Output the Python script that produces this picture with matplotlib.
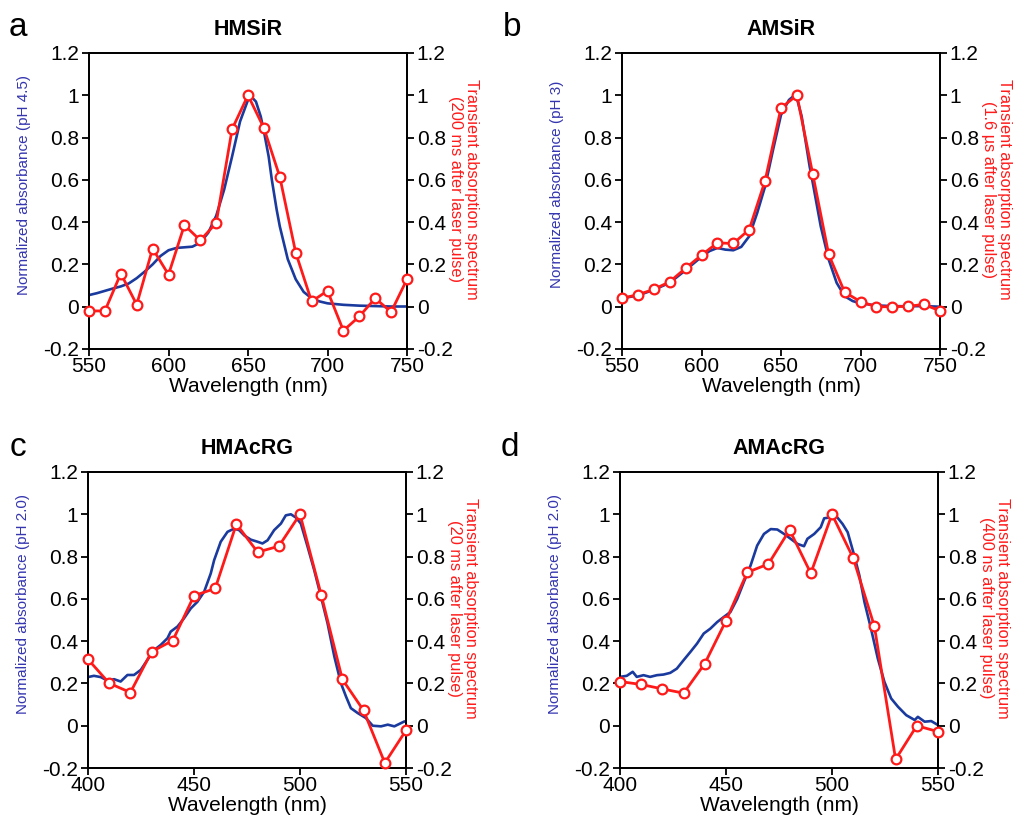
import matplotlib
matplotlib.use("Agg")
import matplotlib.pyplot as plt
from matplotlib.ticker import FuncFormatter, MultipleLocator

plt.rcParams['font.family'] = ['Liberation Sans', 'DejaVu Sans']

# ---------------- data ----------------
# Panel a: HMSiR
a_abs_x = [550, 555, 560, 565, 570, 575, 580, 585, 590, 595, 600, 605, 610, 615, 620, 625, 630,
           635, 640, 645, 650, 652, 655, 658, 660, 663, 665, 668, 670, 673, 675, 680, 685, 690,
           695, 700, 710, 720, 730, 740, 750]
a_abs_y = [0.055, 0.064, 0.075, 0.086, 0.096, 0.11, 0.135, 0.166, 0.20, 0.24, 0.267, 0.278, 0.281,
           0.284, 0.303, 0.35, 0.43, 0.554, 0.711, 0.876, 0.978, 0.994, 0.97, 0.90, 0.83, 0.71,
           0.60, 0.46, 0.38, 0.287, 0.225, 0.13, 0.07, 0.04, 0.025, 0.016, 0.009, 0.005, 0.003,
           0.001, 0.001]
a_ta_x = [550, 560, 570, 580, 590, 600, 610, 620, 630, 640, 650, 660, 670, 680, 690, 700, 710,
          720, 730, 740, 750]
a_ta_y = [-0.02, -0.02, 0.157, 0.01, 0.275, 0.152, 0.386, 0.314, 0.396, 0.84, 1.0, 0.845, 0.614,
          0.256, 0.025, 0.075, -0.113, -0.046, 0.04, -0.025, 0.13]

# Panel b: AMSiR
b_abs_x = [550, 560, 570, 580, 590, 600, 605, 610, 615, 620, 625, 630, 635, 640, 645, 650, 655,
           658, 660, 663, 665, 668, 670, 675, 680, 685, 690, 695, 700, 710, 720, 730, 740, 750]
b_abs_y = [0.04, 0.053, 0.08, 0.113, 0.173, 0.236, 0.263, 0.278, 0.27, 0.267, 0.283, 0.333, 0.443,
           0.569, 0.742, 0.907, 0.978, 0.997, 0.986, 0.90, 0.805, 0.664, 0.585, 0.38, 0.223,
           0.113, 0.05, 0.027, 0.016, 0.006, 0.003, 0.002, 0.003, 0.0]
b_ta_x = [550, 560, 570, 580, 590, 600, 610, 620, 630, 640, 650, 660, 670, 680, 690, 700, 710,
          720, 730, 740, 750]
b_ta_y = [0.04, 0.057, 0.082, 0.118, 0.182, 0.244, 0.302, 0.299, 0.365, 0.596, 0.94, 1.0, 0.626,
          0.247, 0.069, 0.024, 0.0, 0.0, 0.002, 0.011, -0.02]

# Panel c: HMAcRG
c_abs_x = [400, 402.8, 406, 409.1, 412.3, 415.4, 418.6, 421.7, 424.9, 428, 431.2, 434.3, 437.5,
           439, 442.2, 445.3, 448.5, 451.6, 454.8, 457.9, 459.5, 462.6, 465.8, 468.9, 471.3,
           473.7, 476.8, 480, 482.3, 484.7, 487.8, 491, 493.3, 495.7, 498, 500.4, 503.6, 506.7,
           509.9, 513, 516.2, 519.3, 521.7, 524, 527.2, 531.1, 534.3, 538.2, 541.4, 544.5, 549.2,
           550]
c_abs_y = [0.23, 0.236, 0.23, 0.214, 0.22, 0.209, 0.24, 0.24, 0.264, 0.311, 0.358, 0.382, 0.414,
           0.445, 0.469, 0.508, 0.555, 0.586, 0.634, 0.72, 0.783, 0.87, 0.917, 0.932, 0.925,
           0.90, 0.88, 0.87, 0.862, 0.877, 0.925, 0.956, 0.995, 1.0, 0.985, 0.956, 0.846, 0.736,
           0.61, 0.484, 0.327, 0.201, 0.138, 0.083, 0.06, 0.036, 0.0, -0.003, 0.005, -0.003,
           0.02, 0.02]
c_ta_x = [400, 410, 420, 430, 440, 450, 460, 470, 480, 490, 500, 510, 520, 530, 540, 550]
c_ta_y = [0.314, 0.201, 0.157, 0.35, 0.403, 0.615, 0.649, 0.954, 0.821, 0.849, 1.0, 0.619, 0.219,
          0.072, -0.176, -0.022]

# Panel d: AMAcRG
d_abs_x = [400, 403.2, 406, 407.9, 411.1, 414.2, 417.4, 420.5, 423.7, 426.8, 430, 433.2, 436.3,
           439.5, 442.6, 445.8, 448.9, 452.1, 455.3, 458.4, 461.6, 464.7, 467.9, 471.1, 474.2,
           477.4, 480.5, 483.7, 486.8, 488.4, 491.6, 494.7, 496.3, 499.5, 501.8, 505, 507.4,
           510.5, 512.9, 515.3, 518.4, 521.6, 524.7, 527.9, 531.1, 535, 539, 540.5, 543.7,
           546.8, 550]
d_abs_y = [0.231, 0.236, 0.255, 0.231, 0.239, 0.231, 0.239, 0.242, 0.25, 0.27, 0.31, 0.349,
           0.388, 0.436, 0.459, 0.49, 0.514, 0.538, 0.60, 0.679, 0.758, 0.852, 0.907, 0.93,
           0.928, 0.907, 0.884, 0.86, 0.849, 0.884, 0.907, 0.939, 0.981, 0.986, 0.994, 0.954,
           0.915, 0.805, 0.711, 0.585, 0.459, 0.318, 0.208, 0.129, 0.09, 0.05, 0.027, 0.042,
           0.019, 0.022, 0.003]
d_ta_x = [400, 410, 420, 430, 440, 450, 460, 470, 480, 490, 500, 510, 520, 530, 540, 550]
d_ta_y = [0.209, 0.195, 0.174, 0.154, 0.294, 0.497, 0.725, 0.765, 0.926, 0.721, 1.0, 0.793, 0.47,
          -0.159, 0.0, -0.028]

letters = ['a', 'b', 'c', 'd']
titles = ['HMSiR', 'AMSiR', 'HMAcRG', 'AMAcRG']
left_labels = ['Normalized absorbance (pH 4.5)', 'Normalized absorbance (pH 3)',
               'Normalized absorbance (pH 2.0)', 'Normalized absorbance (pH 2.0)']
right_labels = ['Transient absorption spectrum\n(200 ms after laser pulse)',
                'Transient absorption spectrum\n(1.6 \u00b5s after laser pulse)',
                'Transient absorption spectrum\n(20 ms after laser pulse)',
                'Transient absorption spectrum\n(400 ns after laser pulse)']
xlims = [(550, 750), (550, 750), (400, 550), (400, 550)]
x_label = 'Wavelength (nm)'
y_range = (-0.2, 1.2)

abs_data = [(a_abs_x, a_abs_y), (b_abs_x, b_abs_y), (c_abs_x, c_abs_y), (d_abs_x, d_abs_y)]
ta_data = [(a_ta_x, a_ta_y), (b_ta_x, b_ta_y), (c_ta_x, c_ta_y), (d_ta_x, d_ta_y)]

# ---------------- style ----------------
W, H = 1023, 823
BLUE = '#1a3a9e'
RED = '#ff1a1a'
LBLUE = '#3535b0'
# axes boxes in pixels: left, top, right, bottom
boxes = [(89, 53, 407, 349), (622, 53, 940, 349), (88, 472, 406, 768), (620, 472, 938, 768)]
letter_pos = [(18, 28), (512, 28), (18, 447), (510, 447)]

fmt = FuncFormatter(lambda v, p: '%g' % round(v, 2))

fig = plt.figure(figsize=(W / 100, H / 100), dpi=100)

for i in range(4):
    l, t, r, b = boxes[i]
    ax = fig.add_axes([l / W, 1 - b / H, (r - l) / W, (b - t) / H])
    ax2 = ax.twinx()
    xs, ys = abs_data[i]
    ax.plot(xs, ys, color=BLUE, lw=1.9, zorder=2)
    tx, ty = ta_data[i]
    ax2.plot(tx, ty, color=RED, lw=2.0, marker='o', ms=7, mfc='white', mec=RED, mew=1.6,
             zorder=3, clip_on=False)
    for a_ in (ax, ax2):
        a_.set_xlim(*xlims[i])
        a_.set_ylim(*y_range)
        a_.yaxis.set_major_locator(MultipleLocator(0.2))
        a_.yaxis.set_major_formatter(fmt)
        for s in a_.spines.values():
            s.set_linewidth(1.3)
        a_.tick_params(direction='out', length=5, width=1.3, labelsize=15, pad=2)
    ax.tick_params(axis='x', pad=1)
    ax.xaxis.set_major_locator(MultipleLocator(50))
    ax.xaxis.set_major_formatter(fmt)
    ax.set_xlabel(x_label, fontsize=15, labelpad=0.5)
    ax.text(-0.205, 0.555, left_labels[i], transform=ax.transAxes, rotation=90,
            ha='center', va='center', fontsize=11, color=LBLUE)
    ax2.text(1.178, 0.54, right_labels[i], transform=ax2.transAxes, rotation=270,
             ha='center', va='center', fontsize=11.8, color=RED, multialignment='center',
             linespacing=1.1)
    ax.text(0.5, 1.078, titles[i], transform=ax.transAxes, ha='center', va='center',
            fontsize=15.5, fontweight='bold')
    fig.text(letter_pos[i][0] / W, 1 - letter_pos[i][1] / H, letters[i], fontsize=24,
             ha='center', va='center')

fig.savefig('out.png', dpi=100)
